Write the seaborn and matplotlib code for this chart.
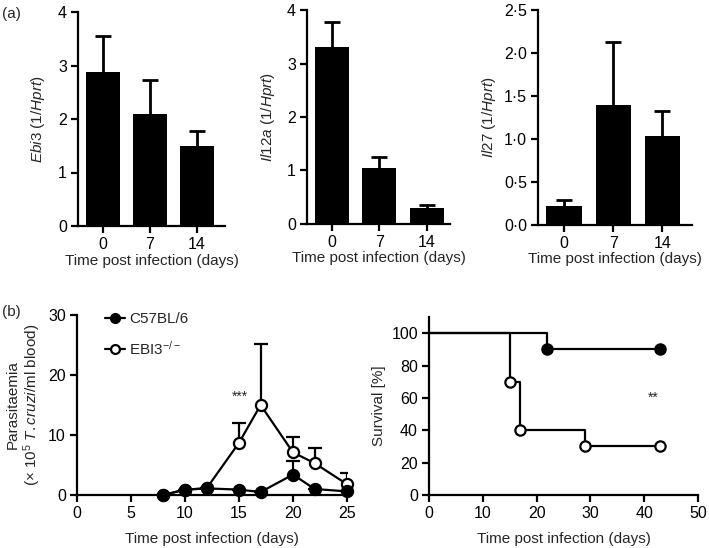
import numpy as np
import pandas as pd
import matplotlib
matplotlib.use("Agg")
import matplotlib.pyplot as plt
import seaborn as sns
from matplotlib.ticker import FuncFormatter

sns.set_theme(style="ticks")
plt.rcParams['font.family'] = ['Liberation Sans', 'DejaVu Sans']
plt.rcParams['mathtext.fontset'] = 'custom'
plt.rcParams['mathtext.rm'] = 'Liberation Sans'
plt.rcParams['mathtext.it'] = 'Liberation Sans:italic'
plt.rcParams['font.size'] = 11

# ---- data ----
days_cat = ["0", "7", "14"]
ebi3_mean = [2.88, 2.10, 1.50]
ebi3_err = [0.67, 0.62, 0.27]
il12a_mean = [3.30, 1.05, 0.30]
il12a_err = [0.47, 0.20, 0.06]
il27_mean = [0.22, 1.40, 1.03]
il27_err = [0.07, 0.73, 0.29]

para_days = [8, 10, 12, 15, 17, 20, 22, 25]
c57_para = [0.0, 0.9, 1.1, 0.9, 0.5, 3.4, 1.0, 0.6]
c57_para_err = [0.0, 0.0, 0.0, 0.0, 0.0, 2.3, 0.0, 0.0]
ebi_para = [0.0, 0.9, 1.1, 8.7, 15.0, 7.1, 5.3, 1.8]
ebi_para_err = [0.0, 0.0, 0.0, 3.3, 10.2, 2.6, 2.5, 1.9]

c57_surv_t = [0, 22, 43]
c57_surv = [100, 90, 90]
ebi_surv_t = [0, 15, 17, 29, 43]
ebi_surv = [100, 70, 40, 30, 30]

xlabel = "Time post infection (days)"

W, H = 709, 548
fig = plt.figure(figsize=(W / 100, H / 100), dpi=100)

def ax_px(x0, y0, x1, y1):
    return fig.add_axes([x0 / W, 1 - y1 / H, (x1 - x0) / W, (y1 - y0) / H])

def style(ax):
    sns.despine(ax=ax)
    for s in ("left", "bottom"):
        ax.spines[s].set_linewidth(1.6)
        ax.spines[s].set_color("black")
    ax.tick_params(direction="out", length=5, width=1.6, labelsize=11.5,
                   colors="black", pad=3)

def upper_err(ax, x, y, err, lw, cap, z=1):
    c = ax.errorbar(x, y, yerr=[np.zeros(len(err)), err], fmt="none",
                    ecolor="black", elinewidth=lw, capsize=cap, capthick=lw,
                    zorder=z)
    c.lines[1][0].set_visible(False)  # hide lower cap
    return c

dot_fmt = FuncFormatter(lambda v, p: f"{v:.1f}".replace(".", "\u00b7"))

bar_panels = [
    ((78, 12, 225, 226), ebi3_mean, ebi3_err, 4, np.arange(0, 5, 1),
     r"$\it{Ebi3}$ (1/$\it{Hprt}$)", None, (-0.53, 2.6), 8),
    ((307, 10, 450, 224), il12a_mean, il12a_err, 4, np.arange(0, 5, 1),
     r"$\it{Il12a}$ (1/$\it{Hprt}$)", None, (-0.53, 2.49), 7),
    ((538, 10, 692, 225), il27_mean, il27_err, 2.5, np.arange(0, 2.51, 0.5),
     r"$\it{Il27}$ (1/$\it{Hprt}$)", dot_fmt, (-0.53, 2.6), 4),
]

for box, mean, err, ymax, yt, ylab, fmt, xl, lp in bar_panels:
    ax = ax_px(*box)
    df = pd.DataFrame({"day": days_cat, "val": mean})
    sns.barplot(data=df, x="day", y="val", color="black", width=0.72,
                saturation=1, ax=ax, errorbar=None, linewidth=0,
                edgecolor="black")
    upper_err(ax, np.arange(3), mean, err, 2, 6, z=3)
    ax.set_ylim(0, ymax)
    ax.set_xlim(*xl)
    ax.set_yticks(yt)
    if fmt is not None:
        ax.yaxis.set_major_formatter(fmt)
    ax.set_xlabel(xlabel, fontsize=11, labelpad=1)
    ax.set_ylabel(ylab, fontsize=11, labelpad=lp)
    style(ax)

# ---- parasitaemia ----
ax = ax_px(77, 315, 347, 495)
df_c = pd.DataFrame({"day": para_days, "val": c57_para})
df_e = pd.DataFrame({"day": para_days, "val": ebi_para})
upper_err(ax, para_days, c57_para, c57_para_err, 1.6, 5)
upper_err(ax, para_days, ebi_para, ebi_para_err, 1.6, 5)
sns.lineplot(data=df_e, x="day", y="val", ax=ax, color="black", lw=1.6,
             marker="o", markersize=8, markerfacecolor="white",
             markeredgecolor="black", markeredgewidth=1.6,
             label=r"EBI3$^{-/-}$", clip_on=False, zorder=3)
sns.lineplot(data=df_c, x="day", y="val", ax=ax, color="black", lw=1.6,
             marker="o", markersize=8, markerfacecolor="black",
             markeredgecolor="black", markeredgewidth=1.6, label="C57BL/6",
             clip_on=False, zorder=4)
ax.set_xlim(0, 25)
ax.set_ylim(0, 30)
ax.set_xticks([0, 5, 10, 15, 20, 25])
ax.set_yticks([0, 10, 20, 30])
ax.text(15.1, 16.3, "***", ha="center", va="center", fontsize=10)
ax.set_xlabel(xlabel, fontsize=11, labelpad=8)
ax.set_ylabel("Parasitaemia\n" + r"(× 10$^5$ $\it{T.cruzi}$/ml blood)",
              fontsize=11, linespacing=1.1)
handles, labels = ax.get_legend_handles_labels()
order = [labels.index("C57BL/6"), 1 - labels.index("C57BL/6")]
leg = ax.legend([handles[i] for i in order], [labels[i] for i in order],
                loc="upper left", bbox_to_anchor=(0.08, 1.05), frameon=False,
                fontsize=11, handlelength=1.3, handletextpad=0.3,
                labelspacing=0.9, borderaxespad=0, markerscale=0.8)
style(ax)

# ---- survival ----
ax = ax_px(429, 317, 698, 495)
df_cs = pd.DataFrame({"t": c57_surv_t, "s": c57_surv})
df_es = pd.DataFrame({"t": ebi_surv_t, "s": ebi_surv})
sns.lineplot(data=df_cs, x="t", y="s", ax=ax, color="black", lw=1.6,
             drawstyle="steps-post")
sns.lineplot(data=df_es, x="t", y="s", ax=ax, color="black", lw=1.6,
             drawstyle="steps-post")
sns.scatterplot(data=df_cs.iloc[1:], x="t", y="s", ax=ax, color="black",
                s=55, edgecolor="black", linewidth=1.6, zorder=3)
sns.scatterplot(data=df_es.iloc[1:], x="t", y="s", ax=ax, facecolor="white",
                s=55, edgecolor="black", linewidth=1.6, zorder=3)
ax.text(41.6, 60, "**", ha="center", va="center", fontsize=10)
ax.set_xlim(0, 50)
ax.set_ylim(0, 110)
ax.set_xticks([0, 10, 20, 30, 40, 50])
ax.set_yticks([0, 20, 40, 60, 80, 100])
ax.set_xlabel(xlabel, fontsize=11, labelpad=8)
ax.set_ylabel("Survival [%]", fontsize=11)
style(ax)

fig.text(2 / W, 1 - 14 / H, "(a)", fontsize=11, va="center")
fig.text(2 / W, 1 - 312 / H, "(b)", fontsize=11, va="center")

fig.savefig("out.png", dpi=100)
